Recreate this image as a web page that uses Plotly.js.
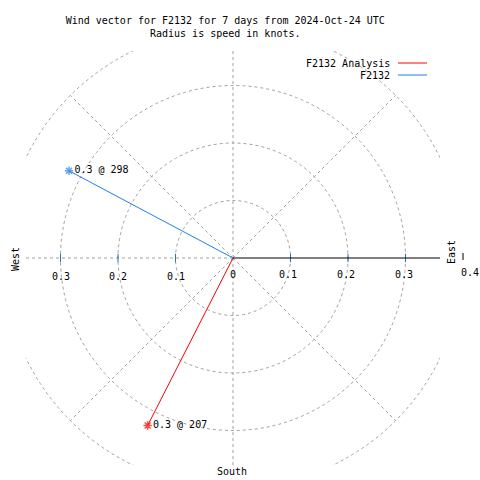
<!DOCTYPE html>
<html><head><meta charset="utf-8">
<script src="https://cdn.plot.ly/plotly-3.0.1.min.js"></script>
<style>html,body{margin:0;padding:0;background:#fff}</style>
</head><body><div id="chart" style="width:480px;height:480px"></div>
<script>
// ---- data ----
const seriesNames = ['F2132 Analysis', 'F2132'];
const seriesColors = ['#ff0000', '#1f7fe6'];
const speeds = [0.327, 0.323];      // knots
const directions = [207, 298];      // degrees (compass)
const gridRadii = [0.1, 0.2, 0.3, 0.4];
const spokeAngles = [0, 45, 135, 180, 225, 270, 315]; // dashed spokes
const tickValues = [0, 0.1, 0.2, 0.3];
const tickLabels = ['0', '0.1', '0.2', '0.3'];
const outerTick = 0.4;
const titleText = 'Wind vector for F2132 for 7 days from 2024-Oct-24 UTC<br>Radius is speed in knots.';

// ---- layout geometry ----
const L = 26, T = 51, W = 414, H = 414;
const R = 0.36;
const FONT = 'DejaVu Sans Mono';
const px = x => (x - L) / W;
const py = y => 1 - (y - T) / H;
const xv = v => (v + R) / (2 * R);
const GRID = '#a0a0a0';
const DASH = '3px,3px';

const rad = d => d * Math.PI / 180;

const traces = [];
// tick marks on the horizontal axis
const tx = [], ty = [];
tickValues.slice(1).forEach(v => { tx.push(v, -v); ty.push(0, 0); });
traces.push({
  x: tx, y: ty, mode: 'markers', type: 'scatter', cliponaxis: false, hoverinfo: 'skip',
  marker: {symbol: 'line-ns-open', size: 6, line: {color: '#000', width: 1}}, showlegend: false
});
// wind vectors
seriesNames.forEach((n, i) => {
  const s = speeds[i], d = directions[i];
  traces.push({
    x: [0, s * Math.sin(rad(d))], y: [0, s * Math.cos(rad(d))],
    type: 'scatter', mode: 'lines+markers+text', name: n, cliponaxis: false,
    line: {color: seriesColors[i], width: 1},
    marker: {symbol: 'asterisk-open', size: [0, 7], color: seriesColors[i], line: {color: seriesColors[i], width: 1.5}},
    text: ['', s.toFixed(1) + ' @ ' + d], textposition: 'middle right',
    textfont: {family: FONT, size: 10, color: '#000'}, showlegend: false
  });
});

const shapes = [];
gridRadii.forEach(r => shapes.push({
  type: 'circle', xref: 'x', yref: 'y', x0: -r, x1: r, y0: -r, y1: r,
  line: {color: GRID, width: 1, dash: DASH}, layer: 'below'
}));
spokeAngles.forEach(a => shapes.push({
  type: 'line', xref: 'x', yref: 'y', x0: 0, y0: 0,
  x1: 0.4 * Math.sin(rad(a)), y1: 0.4 * Math.cos(rad(a)),
  line: {color: GRID, width: 1, dash: DASH}, layer: 'below'
}));
shapes.push({type: 'line', xref: 'x', yref: 'y', x0: 0, y0: 0, x1: 0.4, y1: 0, line: {color: '#000', width: 1}});
// outer tick at 0.4 (outside the clipped plot box)
shapes.push({type: 'line', xref: 'paper', yref: 'paper', x0: xv(outerTick), x1: xv(outerTick), y0: py(253), y1: py(260), line: {color: '#000', width: 1}});
// legend samples
seriesNames.forEach((n, i) => shapes.push({
  type: 'line', xref: 'paper', yref: 'paper', x0: px(398), x1: px(427), y0: py(63 + 12 * i), y1: py(63 + 12 * i),
  line: {color: seriesColors[i], width: 1}
}));

const tf = {family: FONT, size: 10, color: '#000'};
const ann = [];
tickValues.forEach((v, i) => {
  if (v !== 0) ann.push({xref: 'paper', yref: 'paper', x: xv(-v), y: py(276), text: tickLabels[i], showarrow: false, font: tf, xanchor: 'center', yanchor: 'middle'});
  ann.push({xref: 'paper', yref: 'paper', x: xv(v) - (v !== 0 ? 2 / W : 0), y: py(274), text: tickLabels[i], showarrow: false, font: tf, xanchor: 'center', yanchor: 'middle'});
});
ann.push({xref: 'paper', yref: 'paper', x: px(470), y: py(272), text: String(outerTick), showarrow: false, font: tf, xanchor: 'center', yanchor: 'middle'});
ann.push({xref: 'paper', yref: 'paper', x: px(452), y: py(252), text: 'East', textangle: -90, showarrow: false, font: tf, xanchor: 'center', yanchor: 'middle'});
ann.push({xref: 'paper', yref: 'paper', x: px(15), y: py(259), text: 'West', textangle: -90, showarrow: false, font: tf, xanchor: 'center', yanchor: 'middle'});
ann.push({xref: 'paper', yref: 'paper', x: px(232), y: py(471), text: 'South', showarrow: false, font: tf, xanchor: 'center', yanchor: 'middle'});
seriesNames.forEach((n, i) => ann.push({
  xref: 'paper', yref: 'paper', x: px(392), y: py(63 + 12 * i), text: n, showarrow: false, font: tf, xanchor: 'right', yanchor: 'middle'
}));

const layout = {
  width: 480, height: 480,
  margin: {l: L, r: 480 - L - W, t: T, b: 480 - T - H, pad: 0},
  paper_bgcolor: '#fff', plot_bgcolor: '#fff',
  title: {text: titleText, x: 231 / 480, xanchor: 'center', xref: 'paper', yref: 'container', y: 1 - 24 / 480, yanchor: 'top',
          font: {family: FONT, size: 10, color: '#000'}},
  xaxis: {range: [-R, R], visible: false, fixedrange: true},
  yaxis: {range: [-R, R], visible: false, fixedrange: true},
  shapes: shapes, annotations: ann, showlegend: false
};
Plotly.newPlot('chart', traces, layout, {displayModeBar: false, staticPlot: true});
</script></body></html>
